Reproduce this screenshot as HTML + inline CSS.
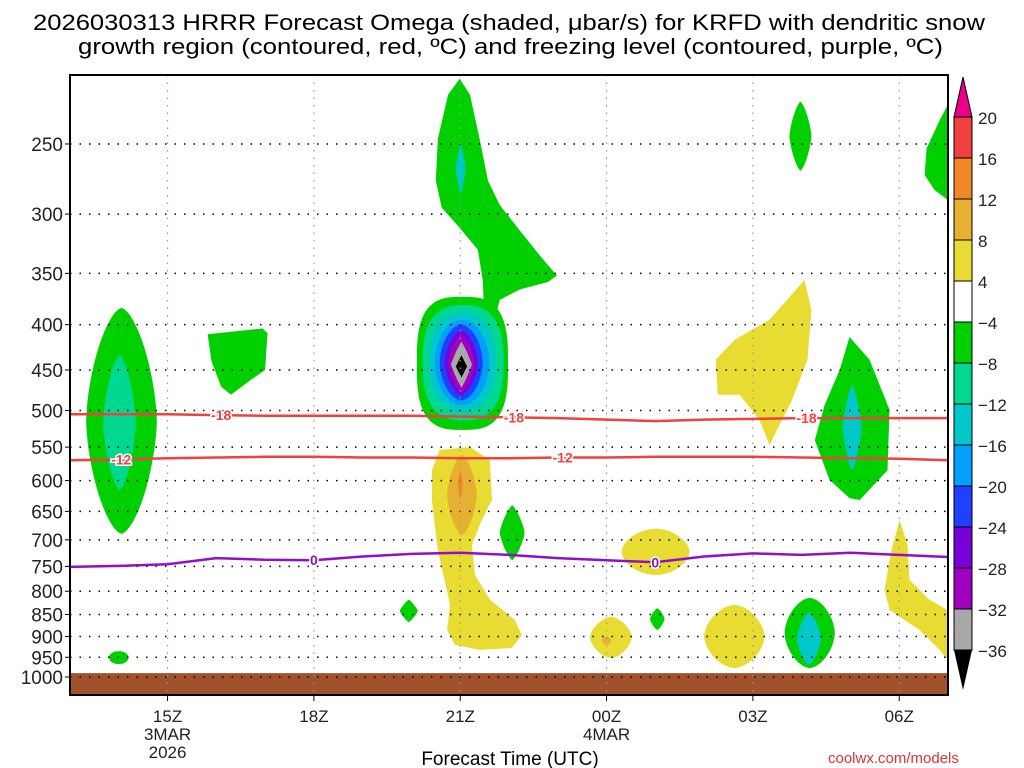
<!DOCTYPE html>
<html><head><meta charset="utf-8"><style>
html,body{margin:0;padding:0;background:#fff;width:1024px;height:768px;overflow:hidden}
svg{display:block;font-family:"Liberation Sans",sans-serif}
</style></head><body>
<svg id="chart" width="1024" height="768" viewBox="0 0 1024 768" xmlns="http://www.w3.org/2000/svg">
<defs><clipPath id="plotclip"><rect x="70" y="75" width="878" height="620"/></clipPath></defs>
<text x="33" y="30" font-size="22" textLength="952" lengthAdjust="spacingAndGlyphs">2026030313 HRRR Forecast Omega (shaded, μbar/s) for KRFD with dendritic snow</text>
<text x="78" y="54" font-size="22" textLength="865" lengthAdjust="spacingAndGlyphs">growth region (contoured, red, ºC) and freezing level (contoured, purple, ºC)</text>
<g id="shade" clip-path="url(#plotclip)"></g>
<g id="grid"></g>
<g id="lines" clip-path="url(#plotclip)"></g>
<g id="axes"></g>
<rect x="70" y="75" width="878" height="620" fill="none" stroke="#000" stroke-width="2"/>
<g id="cbar"></g>
<text x="510" y="765" font-size="19" text-anchor="middle">Forecast Time (UTC)</text>
<text x="828" y="763" font-size="15" fill="#e03030">coolwx.com/models</text>
</svg>
<script>
// ---- data ----
const pressureTicks=[250,300,350,400,450,500,550,600,650,700,750,800,850,900,950,1000];
const timeTickHours=[2,5,8,11,14,17];
const timeTickLabels=["15Z","18Z","21Z","00Z","03Z","06Z"];
const dateLabels=[["3MAR","2026"],[],[],["4MAR"],[],[]];
const levelNames=["r","o2","o1","y","g","m","t","lb","b","p1","p2","gr","k"];
const levelColors=["#f04040","#f08828","#e8b030","#e8dc32","#00d000","#00d890","#00c8c8","#00a0ff","#2040ff","#7800d8","#a000c0","#a8a8a8","#000000"];
const cbarLabels=["20","16","12","8","4","−4","−8","−12","−16","−20","−24","−28","−32","−36"];
const surfacePressure=990;
// blobs: [hStart,hEnd,pTop,pBot,level,shape]
const blobs=[
 [0.33,1.78,383,689,"g",1.6],[0.68,1.35,433,615,"m",1.5],
 [0.8,1.2,935,967,"g",2],
 [7.11,8.98,372,526,"g",3],[7.23,8.89,380,513,"m",2.6],[7.36,8.73,387,502,"t",2.3],
 [7.48,8.59,395,493,"lb",2],[7.58,8.46,400,487,"b",1.8],[7.68,8.36,406,480,"p1",1.6],
 [7.75,8.30,411,477,"p2",1.4],[7.81,8.24,418,471,"gr",1.1],[7.91,8.14,433,459,"k",1],
 [7.91,8.11,250,285,"t",1.2],
 [7.73,8.34,561,691,"o1",1.5],[7.95,8.05,584,631,"o2",1.2],
 [8.81,9.32,640,738,"g",1.3],[6.76,7.13,818,867,"g",1.2],[11.89,12.19,836,885,"g",1.3],
 [10.66,11.52,855,952,"y",1.6],[10.9,11.1,900,920,"o1",1.5],
 [11.31,12.70,680,767,"y",1.8],[13.0,14.24,829,977,"y",1.7],
 [14.75,15.20,224,268,"g",1.4],
 [14.65,15.68,814,977,"g",1.7],[14.9,15.4,845,969,"t",1.4],
 [15.84,16.23,468,584,"t",1.3]
];
// polygons: level, then [hour,pressure] vertices
const polyLevels=["g","g","y","g","g","y"];
const polyPoints=[
 [[7.99,211],[8.20,220],[8.40,247],[8.57,275],[8.81,293],[9.22,313],[9.63,334],[9.98,352],[9.80,358],[9.22,365],[8.81,375],[8.71,395],[8.50,395],[8.46,356],[8.36,329],[7.99,311],[7.62,295],[7.50,275],[7.54,247],[7.75,220]],
 [[4.05,409],[3.95,404],[2.82,410],[2.9,440],[3.1,470],[3.3,480],[3.7,462],[4.0,450]],
 [[7.58,554],[8.20,550],[8.61,569],[8.65,631],[8.44,665],[8.24,709],[8.30,767],[8.61,818],[9.12,862],[9.26,897],[9.06,927],[8.40,932],[7.89,920],[7.73,885],[7.79,829],[7.68,777],[7.54,719],[7.42,631],[7.42,584]],
 [[15.98,413],[16.39,438],[16.80,499],[16.76,584],[16.19,631],[15.98,628],[15.57,599],[15.27,540],[15.47,493],[15.78,450]],
 [[17.99,226],[18.5,226],[18.5,289],[17.99,289],[17.73,282],[17.52,271],[17.56,253],[17.83,235]],
 [[17.01,665],[17.17,709],[17.21,777],[17.62,818],[17.99,840],[18.5,850],[18.5,960],[17.99,957],[17.83,932],[17.42,885],[16.80,840],[16.70,797],[16.84,719]]
];
const yellow2=[[15.06,356],[15.20,385],[15.12,438],[14.80,487],[14.34,547],[14.14,513],[13.73,480],[13.28,480],[13.24,438],[13.63,416],[14.34,395]];
const hours=[0,1,2,3,4,5,6,7,8,9,10,11,12,13,14,15,16,17,18];
const dgzMinus18=[505,505,505,506,507,507,507,507,508,509,510,512,514,512,511,510,510,510,510];
const dgzMinus12=[569,568,566,565,564,564,565,565,566,566,565,565,564,564,564,565,566,567,569];
const freezing0=[751,749,746,734,737,738,731,726,724,728,734,738,742,731,725,728,724,728,732];
const lblM18=[3.1,9.1,15.1],lblM12=[1.05,10.1],lbl0=[5.0,12.0];
// ---- scales ----
const X0=70,X1=948,HMAX=18;
const xs=h=>X0+h*(X1-X0)/HMAX;
const ys=p=>677+384.5*Math.log(p/1000);
const NS="http://www.w3.org/2000/svg";
function mk(tag,attrs,parent){const e=document.createElementNS(NS,tag);for(const k in attrs)e.setAttribute(k,attrs[k]);parent.appendChild(e);return e;}
const col=l=>levelColors[levelNames.indexOf(l)];
const shade=document.getElementById('shade');
function drawPoly(pts,l){
  const d=pts.map((q,i)=>(i?'L':'M')+xs(q[0]).toFixed(1)+' '+ys(q[1]).toFixed(1)).join('')+'Z';
  const e=mk('path',{d:d,fill:col(l)},shade);
  
  
}
const sfc=mk('rect',{x:X0,y:ys(surfacePressure),width:X1-X0,height:700-ys(surfacePressure),fill:'#a0522d'},shade);


polyPoints.forEach((pts,i)=>drawPoly(pts,polyLevels[i]));
drawPoly(yellow2,"y");
blobs.forEach(b=>{
  const x0=xs(b[0]),x1=xs(b[1]),y0=ys(b[2]),y1=ys(b[3]);
  const cx=(x0+x1)/2,cy=(y0+y1)/2,rx=(x1-x0)/2,ry=(y1-y0)/2,n=b[5];
  let d='';
  for(let i=0;i<=72;i++){const t=i/72*2*Math.PI,c=Math.cos(t),s=Math.sin(t);
    const px=cx+rx*Math.sign(c)*Math.pow(Math.abs(c),2/n),py=cy+ry*Math.sign(s)*Math.pow(Math.abs(s),2/n);
    d+=(i?'L':'M')+px.toFixed(1)+' '+py.toFixed(1);}
  const e=mk('path',{d:d+'Z',fill:col(b[4])},shade);
  
  
});
const grid=document.getElementById('grid'),axes=document.getElementById('axes');
pressureTicks.forEach(p=>{
  const y=ys(p);
  const g=mk('line',{x1:X0,x2:X1,y1:y,y2:y,stroke:'#000','stroke-width':1.5,'stroke-dasharray':'1.5 8'},grid);
  
  
  const tk=mk('line',{x1:X0-5,x2:X0,y1:y,y2:y,stroke:'#000','stroke-width':1},axes);
  
  
  const t=mk('text',{x:X0-7,y:y+7,'font-size':19,'text-anchor':'end',fill:'#222'},axes);
  t.textContent=p;
  
  
});
timeTickHours.forEach((h,i)=>{
  const x=xs(h);
  const g=mk('line',{x1:x,x2:x,y1:75,y2:695,stroke:'#999','stroke-width':1.2,'stroke-dasharray':'1.5 6'},grid);
  
  
  const tk=mk('line',{x1:x,x2:x,y1:695,y2:701,stroke:'#000'},axes);
  
  
  const labs=[timeTickLabels[i]].concat(dateLabels[i]);
  labs.forEach((s,j)=>{
    const t=mk('text',{x:x,y:722+j*18,'font-size':17,'text-anchor':'middle',fill:'#222'},axes);
    t.textContent=s;
    
    
  });
});
const lg=document.getElementById('lines');
function drawLine(vals,color,name,lbls,txt){
  const d=hours.map((h,i)=>(i?'L':'M')+xs(h).toFixed(1)+' '+ys(vals[i]).toFixed(1)).join('');
  const e=mk('path',{d:d,fill:'none',stroke:color,'stroke-width':2.5},lg);
  
  
  lbls.forEach(h=>{
    const i=Math.floor(h),f=h-i,p=vals[i]+(vals[Math.min(i+1,18)]-vals[i])*f;
    const x=xs(h),y=ys(p);
    const t=mk('text',{x:x,y:y+5,'font-size':14,'font-weight':'bold','text-anchor':'middle',fill:color,stroke:'#fff','stroke-width':3,'paint-order':'stroke'},lg);
    t.textContent=txt;
    
    
  });
}
drawLine(dgzMinus18,'#f04040','dgz-minus18-contour',lblM18,'-18');
drawLine(dgzMinus12,'#f04040','dgz-minus12-contour',lblM12,'-12');
drawLine(freezing0,'#9010c8','freezing-level-contour',lbl0,'0');
const cb=document.getElementById('cbar');
const CX=954,CW=18,CT=117,CH=41;
const cbTop=mk('path',{d:`M${CX} ${CT}L${CX+CW/2} 77L${CX+CW} ${CT}Z`,fill:'#e8008a',stroke:'#000','stroke-width':1},cb);


const boxColors=["#f04040","#f08828","#e8b030","#e8dc32","#ffffff","#00d000","#00d890","#00c8c8","#00a0ff","#2040ff","#7800d8","#a000c0","#a8a8a8"];
boxColors.forEach((c,i)=>{
  const r=mk('rect',{x:CX,y:CT+i*CH,width:CW,height:CH,fill:c,stroke:'#000','stroke-width':1},cb);
  
  
});
const cbBot=mk('path',{d:`M${CX} ${CT+13*CH}L${CX+CW/2} 690L${CX+CW} ${CT+13*CH}Z`,fill:'#000'},cb);


cbarLabels.forEach((s,i)=>{
  const t=mk('text',{x:978,y:CT+i*CH+7,'font-size':17,fill:'#222'},cb);
  t.textContent=s;
  
  
});
</script>
</body></html>
